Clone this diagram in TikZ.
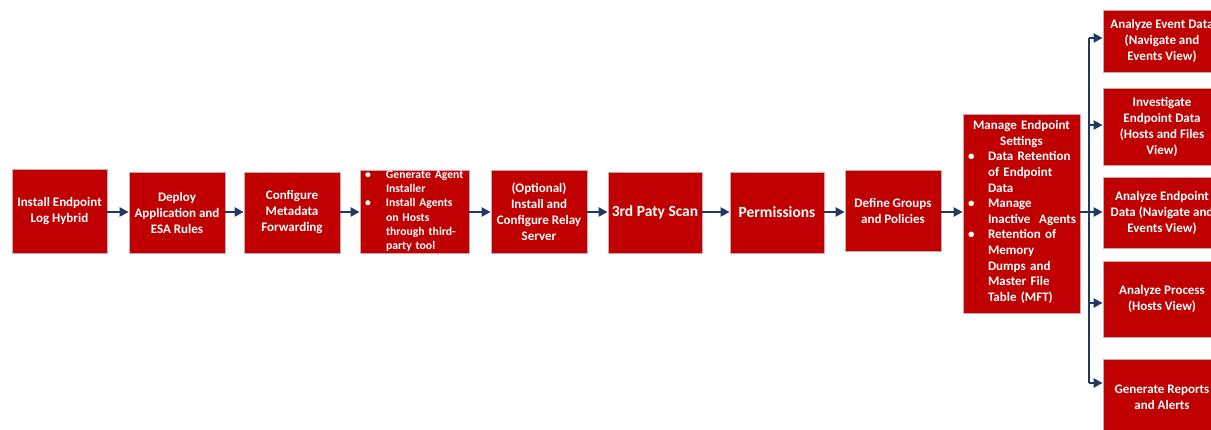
\documentclass[tikz,border=0pt]{standalone}
\usepackage{fontspec}
\setmainfont{Carlito}
\usetikzlibrary{arrows.meta}
\definecolor{boxred}{RGB}{192,0,0}
\definecolor{navy}{RGB}{31,56,100}
\definecolor{edge}{RGB}{205,170,170}
\tikzset{
  box/.style={draw=edge, line width=0.8pt, fill=boxred, inner sep=0pt, anchor=center,
    text=white, font=\bfseries\fontsize{13}{16}\selectfont, align=center},
  txt/.style={text=white, inner sep=0pt, font=\bfseries\fontsize{13}{15.6}\selectfont},
  arr/.style={draw=navy, line width=2.4pt, -{Triangle[length=9pt,width=9pt]}},
  trunk/.style={draw=navy, line width=2pt}
}
\newcommand{\bul}[2]{\noindent\hangindent=#1\hangafter=1\makebox[#1][l]{\hspace{#2}\textbullet}}
\begin{document}
\begin{tikzpicture}[x=1pt,y=-1pt]
\useasboundingbox (0,0) rectangle (1211,430);
\clip (0,0) rectangle (1211,430);
% main row boxes
\node[box, minimum width=95pt, minimum height=84pt] (b1) at (59.5,211) {Install Endpoint\\Log Hybrid};
\node[box, minimum width=96pt, minimum height=81pt] (b2) at (177,212.5) {Deploy\\Application and\\ESA Rules};
\node[box, minimum width=96pt, minimum height=81pt] (b3) at (292,212.5) {Configure\\Metadata\\Forwarding};
\node[box, minimum width=109pt, minimum height=83pt] (b4) at (414.5,211.5) {};
\node[txt, text width=107pt, font=\bfseries\fontsize{11.7}{14.3}\selectfont, anchor=center] (b4t) at (415.5,211) {%
\raggedright
\bul{24pt}{3pt}Generate Agent\newline Installer\par
\bul{24pt}{3pt}Install Agents\newline on Hosts\newline through third-\newline party tool\par};
\node[box, minimum width=96pt, minimum height=83pt] (b5) at (539,211.5) {(Optional)\\Install and\\Configure Relay\\Server};
\node[box, minimum width=94pt, minimum height=81pt, font=\bfseries\fontsize{15.5}{18}\selectfont] (b6) at (655,212.5) {3rd Paty Scan};
\node[box, minimum width=94pt, minimum height=81pt, font=\bfseries\fontsize{15.5}{18}\selectfont] (b7) at (777,212.5) {Permissions};
\node[box, minimum width=96pt, minimum height=81pt] (b8) at (893,210.5) {Define Groups\\and Policies};
\node[box, minimum width=117pt, minimum height=199pt] (b9) at (1021.5,213.5) {};
\node[txt, text width=115pt, anchor=center] (b9t) at (1021.5,212) {%
\centering Manage Endpoint\\Settings\par\raggedright
\bul{24pt}{4pt}Data Retention\newline of Endpoint\newline Data\par
\bul{24pt}{4pt}Manage\newline Inactive\ \ Agents\par
\bul{24pt}{4pt}Retention of\newline Memory\newline Dumps and\newline Master File\newline Table (MFT)\par};
% right column
\node[box, minimum width=118pt, minimum height=62pt] (r1) at (1162,41) {Analyze Event Data\\(Navigate and\\Events View)};
\node[box, minimum width=118pt, minimum height=77pt] (r2) at (1162,126.5) {Investigate\\Endpoint Data\\(Hosts and Files\\View)};
\node[box, minimum width=118pt, minimum height=71pt] (r3) at (1162,212.5) {Analyze Endpoint\\Data (Navigate and\\Events View)};
\node[box, minimum width=118pt, minimum height=76pt] (r4) at (1162,299) {Analyze Process\\(Hosts View)};
\node[box, minimum width=118pt, minimum height=77pt] (r5) at (1162,397.5) {Generate Reports\\and Alerts};
% connectors
\coordinate (m) at (0,212);
\draw[arr] (b1.east |- m) -- (b2.west |- m);
\draw[arr] (b2.east |- m) -- (b3.west |- m);
\draw[arr] (b3.east |- m) -- (b4.west |- m);
\draw[arr] (b4.east |- m) -- (b5.west |- m);
\draw[arr] (b5.east |- m) -- (b6.west |- m);
\draw[arr] (b6.east |- m) -- (b7.west |- m);
\draw[arr] (b7.east |- m) -- (b8.west |- m);
\draw[arr] (b8.east |- m) -- (b9.west |- m);
\draw[arr] (b9.east |- m) -- (r3.west |- m);
\coordinate (t1) at (1089,38);
\coordinate (t2) at (1089,125);
\coordinate (t4) at (1089,303);
\coordinate (t5) at (1089,383);
\draw[trunk] (t1) -- (t5);
\draw[arr] (t1) -- (t1 -| r1.west);
\draw[arr] (t2) -- (t2 -| r2.west);
\draw[arr] (t4) -- (t4 -| r4.west);
\draw[arr] (t5) -- (t5 -| r5.west);
\end{tikzpicture}
\end{document}
